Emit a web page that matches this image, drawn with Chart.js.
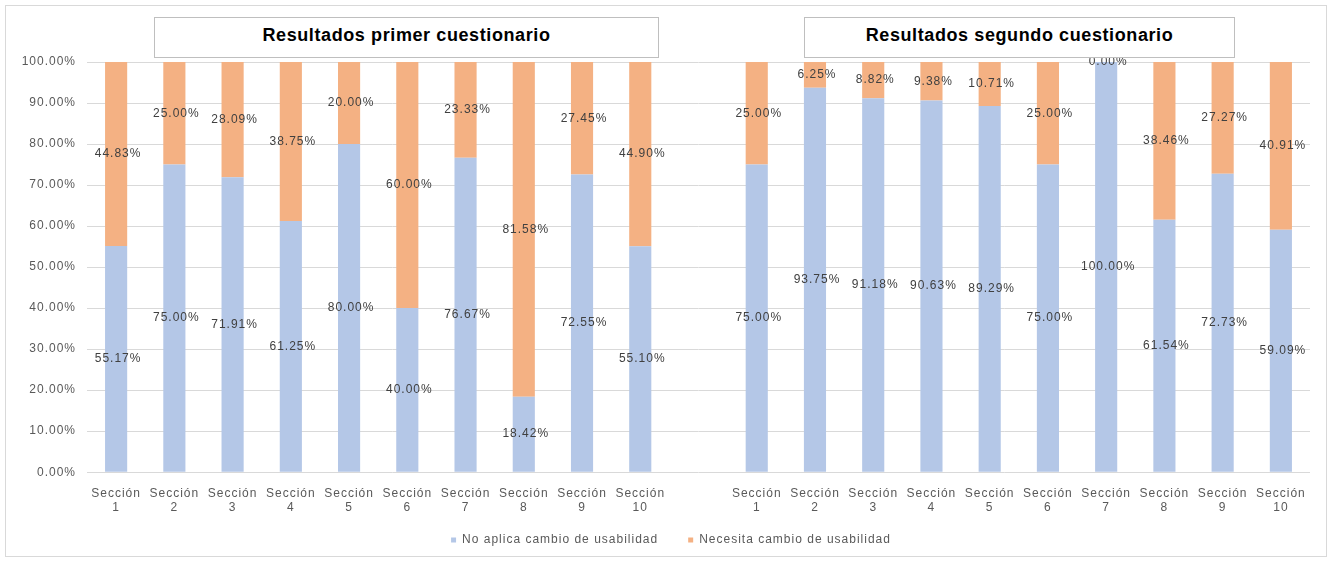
<!DOCTYPE html>
<html>
<head>
<meta charset="utf-8">
<script src="https://cdn.jsdelivr.net/npm/chart.js@4"></script>
<style>
  html, body { margin: 0; padding: 0; background: #fff; }
  #wrap { position: relative; width: 1332px; height: 561px; }
  #frame { position: absolute; left: 5px; top: 5px; width: 1320px; height: 550px; border: 1px solid #d9d9d9; }
  .title {
    position: absolute; top: 17px; height: 35px; padding-bottom: 4px; border: 1px solid #bfbfbf; background: #fff;
    font: bold 18px "Liberation Sans", Arial, sans-serif; letter-spacing: 0.6px; color: #000;
    display: flex; align-items: center; justify-content: center;
  }
  canvas { position: absolute; left: 0; top: 0; }
</style>
</head>
<body>
<div id="wrap">
  <div id="frame"></div>
  <canvas id="chart" width="1332" height="561"></canvas>
  <div class="title" style="left:154px;width:503px;">Resultados primer cuestionario</div>
  <div class="title" style="left:804px;width:429px;">Resultados segundo cuestionario</div>
</div>
<script>
"use strict";

const secciones = ['1', '2', '3', '4', '5', '6', '7', '8', '9', '10'];
const seriesNames = ['No aplica cambio de usabilidad', 'Necesita cambio de usabilidad'];
const primerNoAplica = [55.17, 75.00, 71.91, 61.25, 80.00, 40.00, 76.67, 18.42, 72.55, 55.10];
const primerNecesita = [44.83, 25.00, 28.09, 38.75, 20.00, 60.00, 23.33, 81.58, 27.45, 44.90];
const segundoNoAplica = [75.00, 93.75, 91.18, 90.63, 89.29, 75.00, 100.00, 61.54, 72.73, 59.09];
const segundoNecesita = [25.00, 6.25, 8.82, 9.38, 10.71, 25.00, 0.00, 38.46, 27.27, 40.91];
const yTicks = [0, 10, 20, 30, 40, 50, 60, 70, 80, 90, 100];

// both questionnaires share one axis, with an empty slot between them
const labels = [...secciones.map(s => ['Sección', s]), '', ...secciones.map(s => ['Sección', s])];
const noAplica = [...primerNoAplica, null, ...segundoNoAplica];
const necesita = [...primerNecesita, null, ...segundoNecesita];

// the excel text is a bit wider than plain 12px arial
const spacing = {
  id: 'spacing',
  beforeUpdate(chart) { chart.ctx.letterSpacing = '1px'; },
  beforeDraw(chart) { chart.ctx.letterSpacing = '1px'; },
};

const valueLabels = {
  id: 'valueLabels',
  afterDatasetsDraw(chart) {
    const ctx = chart.ctx;
    ctx.save();
    ctx.font = '12px "Liberation Sans", Arial, sans-serif';
    ctx.letterSpacing = '1px';
    ctx.fillStyle = '#404040';
    ctx.textAlign = 'center';
    ctx.textBaseline = 'middle';
    chart.data.datasets.forEach((ds, di) => {
      chart.getDatasetMeta(di).data.forEach((bar, i) => {
        const v = ds.data[i];
        if (v === null) return;
        const {x, y, base} = bar.getProps(['x', 'y', 'base'], true);
        ctx.fillText(v.toFixed(2) + '%', x + 2, (y + base) / 2);
      });
    });
    ctx.restore();
  }
};

// scales are squeezed below their natural size, so let labels spill out of the box
const noLabelClip = scale => { scale._computeLabelArea = () => undefined; };

const font = {family: '"Liberation Sans", Arial, sans-serif', size: 12};

new Chart(document.getElementById('chart').getContext('2d'), {
  type: 'bar',
  data: {
    labels: labels,
    datasets: [
      {label: seriesNames[0], data: noAplica, backgroundColor: '#b4c7e7', barPercentage: 0.38, categoryPercentage: 1},
      {label: seriesNames[1], data: necesita, backgroundColor: '#f4b183', barPercentage: 0.38, categoryPercentage: 1},
    ],
  },
  options: {
    responsive: false,
    animation: false,
    layout: {padding: {top: 62, left: 32, right: 22, bottom: 5}},
    plugins: {
      legend: {
        position: 'bottom',
        labels: {font: font, color: '#595959', boxWidth: 5, boxHeight: 5, padding: 30},
      },
      tooltip: {enabled: false},
    },
    scales: {
      x: {
        stacked: true,
        grid: {display: false},
        border: {display: false},
        afterFit: scale => { scale.height = scale.height - 17; noLabelClip(scale); },
        ticks: {font: font, color: '#595959', maxRotation: 0, autoSkip: false, padding: 6},
      },
      y: {
        stacked: true,
        min: 0,
        max: 100,
        afterBuildTicks: scale => { scale.ticks = yTicks.map(v => ({value: v})); },
        afterFit: scale => { scale.width = 55; noLabelClip(scale); },
        grid: {color: '#d9d9d9', drawTicks: false},
        border: {display: false},
        ticks: {font: font, color: '#595959', padding: 11, callback: v => v.toFixed(2) + '%'},
      },
    },
  },
  plugins: [spacing, valueLabels],
});
</script>
</body>
</html>
